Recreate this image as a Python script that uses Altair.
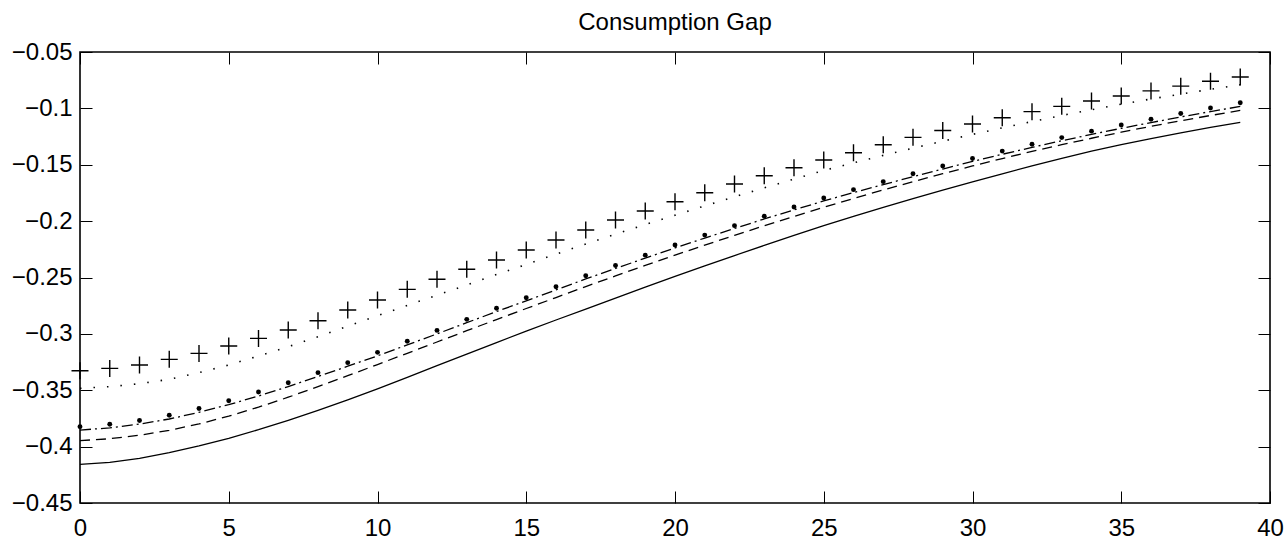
import altair as alt
import pandas as pd

# Quarters after the shock
periods = list(range(40))

# Consumption gap paths, one list per specification
plus_marks = [-0.3327, -0.3306, -0.3276, -0.3226, -0.3173, -0.3108, -0.3040, -0.2966, -0.2883, -0.2788,
              -0.2700, -0.2605, -0.2516, -0.2427, -0.2345, -0.2256, -0.2167, -0.2079, -0.1990, -0.1910,
              -0.1828, -0.1748, -0.1671, -0.1597, -0.1526, -0.1458, -0.1393, -0.1322, -0.1257, -0.1196,
              -0.1139, -0.1083, -0.1029, -0.0982, -0.0934, -0.0890, -0.0845, -0.0803, -0.0760, -0.0722]
dotted_line = [-0.3483, -0.3468, -0.3442, -0.3403, -0.3344, -0.3276, -0.3196, -0.3114, -0.3026, -0.2931,
               -0.2839, -0.2748, -0.2657, -0.2567, -0.2474, -0.2384, -0.2293, -0.2203, -0.2116, -0.2030,
               -0.1947, -0.1865, -0.1784, -0.1705, -0.1627, -0.1551, -0.1483, -0.1417, -0.1353, -0.1291,
               -0.1231, -0.1173, -0.1117, -0.1063, -0.1012, -0.0963, -0.0917, -0.0873, -0.0831, -0.0790]
dot_marks = [-0.3823, -0.3802, -0.3768, -0.3722, -0.3662, -0.3593, -0.3516, -0.3433, -0.3344, -0.3255,
             -0.3164, -0.3066, -0.2969, -0.2871, -0.2773, -0.2679, -0.2582, -0.2485, -0.2393, -0.2302,
             -0.2212, -0.2124, -0.2040, -0.1956, -0.1875, -0.1795, -0.1721, -0.1650, -0.1580, -0.1511,
             -0.1444, -0.1379, -0.1318, -0.1259, -0.1202, -0.1148, -0.1097, -0.1046, -0.0997, -0.0950]
dashdot_line = [-0.3853, -0.3834, -0.3800, -0.3755, -0.3696, -0.3628, -0.3551, -0.3467, -0.3378, -0.3287,
                -0.3195, -0.3098, -0.3000, -0.2901, -0.2802, -0.2707, -0.2610, -0.2513, -0.2420, -0.2328,
                -0.2238, -0.2150, -0.2065, -0.1981, -0.1900, -0.1821, -0.1747, -0.1676, -0.1606, -0.1538,
                -0.1471, -0.1407, -0.1346, -0.1287, -0.1231, -0.1177, -0.1126, -0.1076, -0.1028, -0.0983]
dashed_line = [-0.3947, -0.3930, -0.3899, -0.3855, -0.3799, -0.3730, -0.3650, -0.3562, -0.3468, -0.3371,
               -0.3272, -0.3172, -0.3072, -0.2972, -0.2873, -0.2775, -0.2678, -0.2580, -0.2486, -0.2393,
               -0.2302, -0.2213, -0.2126, -0.2041, -0.1958, -0.1877, -0.1799, -0.1723, -0.1650, -0.1579,
               -0.1511, -0.1445, -0.1382, -0.1322, -0.1265, -0.1211, -0.1159, -0.1110, -0.1063, -0.1018]
solid_line = [-0.4157, -0.4139, -0.4104, -0.4054, -0.3994, -0.3926, -0.3850, -0.3767, -0.3679, -0.3586,
              -0.3487, -0.3385, -0.3282, -0.3179, -0.3077, -0.2976, -0.2877, -0.2780, -0.2682, -0.2585,
              -0.2490, -0.2397, -0.2305, -0.2215, -0.2127, -0.2040, -0.1958, -0.1878, -0.1800, -0.1724,
              -0.1651, -0.1580, -0.1511, -0.1444, -0.1379, -0.1322, -0.1268, -0.1217, -0.1169, -0.1124]

# Tick values
x_ticks = [0, 5, 10, 15, 20, 25, 30, 35, 40]
y_ticks = [-0.45, -0.4, -0.35, -0.3, -0.25, -0.2, -0.15, -0.1, -0.05]

df = pd.DataFrame({
    "t": periods,
    "plus": plus_marks,
    "dotted": dotted_line,
    "dots": dot_marks,
    "dashdot": dashdot_line,
    "dashed": dashed_line,
    "solid": solid_line,
})

FONT = "Liberation Sans"
FS = 24
TICK = 12

x_scale = alt.Scale(domain=[0, 40], nice=False, zero=False)
y_scale = alt.Scale(domain=[-0.45, -0.05], nice=False, zero=False)


def inner_axis(orient, values, fmt, labels, pad):
    # ticks drawn inside the box: the axis is pulled inward by the tick length
    return alt.Axis(
        orient=orient, values=values, format=fmt, labels=labels,
        offset=-TICK, tickSize=TICK, tickColor="black", tickWidth=1,
        domain=False, grid=False, title=None, minExtent=0,
        labelFont=FONT, labelFontSize=FS, labelColor="black",
        labelPadding=pad, labelOverlap=False, labelFlush=False, labelBound=False,
    )


base = alt.Chart(df)

solid = base.mark_line(color="black", strokeWidth=1.3).encode(
    x=alt.X("t:Q", scale=x_scale, axis=inner_axis("bottom", x_ticks, "d", True, 13)),
    y=alt.Y("solid:Q", scale=y_scale, axis=inner_axis("left", y_ticks, ".2~f", True, 8)),
)

dashed = base.mark_line(color="black", strokeWidth=1.3, strokeDash=[10, 6]).encode(
    x=alt.X("t:Q", scale=x_scale, axis=inner_axis("top", x_ticks, "d", False, 4)),
    y=alt.Y("dashed:Q", scale=y_scale, axis=inner_axis("right", y_ticks, ".2~f", False, 4)),
)

dashdot = base.mark_line(color="black", strokeWidth=1.3, strokeDash=[11, 4, 2, 4]).encode(
    x=alt.X("t:Q", scale=x_scale, axis=None),
    y=alt.Y("dashdot:Q", scale=y_scale, axis=None),
)

dotted = base.mark_line(color="black", strokeWidth=1.6, strokeDash=[1.5, 12]).encode(
    x=alt.X("t:Q", scale=x_scale, axis=None),
    y=alt.Y("dotted:Q", scale=y_scale, axis=None),
)

dots = base.mark_point(shape="circle", filled=True, color="black", size=24, opacity=1).encode(
    x=alt.X("t:Q", scale=x_scale, axis=None),
    y=alt.Y("dots:Q", scale=y_scale, axis=None),
)

plus = base.mark_point(shape="M-1,0H1M0,-1V1", filled=False, color="black",
                       size=289, strokeWidth=1.4, opacity=1).encode(
    x=alt.X("t:Q", scale=x_scale, axis=None),
    y=alt.Y("plus:Q", scale=y_scale, axis=None),
)

chart = alt.layer(solid, dashed, dashdot, dotted, dots, plus).properties(
    width=1190,
    height=451,
    padding={"left": 80, "top": 52, "right": 18, "bottom": 36},
    autosize=alt.AutoSizeParams(type="none"),
    background="white",
    title=alt.TitleParams(
        "Consumption Gap", font=FONT, fontSize=FS, fontWeight="normal",
        color="black", anchor="middle", frame="group", baseline="alphabetic",
        offset=11, dy=25,
    ),
).configure_view(stroke="black", strokeWidth=1.6)

chart.save("out.html", embed_options={"renderer": "svg", "actions": False})
